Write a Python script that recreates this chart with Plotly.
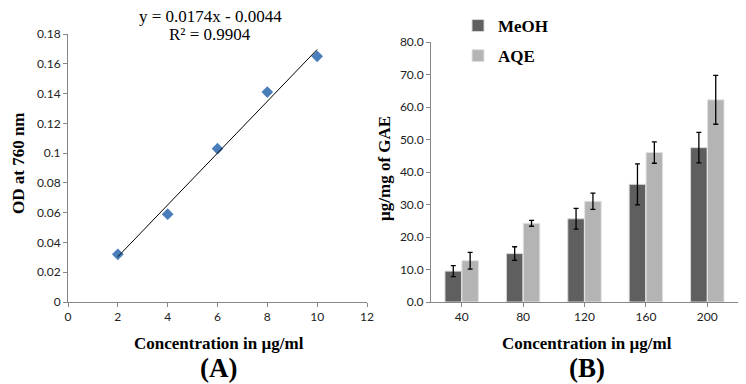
import plotly.graph_objects as go

# Panel A data
conc_a = [2, 4, 6, 8, 10]
od_a = [0.032, 0.059, 0.103, 0.141, 0.165]
slope, intercept = 0.0174, -0.0044
fit_x = [2, 10]

# Panel B data
cats_b = ["40", "80", "120", "160", "200"]
meoh = [9.5, 14.9, 25.6, 36.2, 47.5]
meoh_err = [1.7, 2.1, 3.2, 6.3, 4.7]
aqe = [12.7, 24.2, 31.0, 46.0, 62.2]
aqe_err = [2.6, 0.9, 2.5, 3.3, 7.5]

# page body has an 8px margin, so the figure is offset by 8px
OFF = 8
W, H = 746 - OFF, 384 - OFF
def px(x): return (x - OFF) / W
def py(y): return 1 - (y - OFF) / H

serif = "Liberation Serif"
sans = "Lato"

fig = go.Figure()
fig.add_trace(go.Scatter(x=conc_a, y=od_a, mode="markers",
                         marker=dict(symbol="diamond", size=9, color="#4a7ebb"),
                         xaxis="x", yaxis="y", showlegend=False))
fig.add_trace(go.Scatter(x=fit_x, y=[slope * v + intercept for v in fit_x], mode="lines",
                         line=dict(color="black", width=1),
                         xaxis="x", yaxis="y", showlegend=False))

fig.add_trace(go.Bar(x=cats_b, y=meoh, name="MeOH", marker=dict(color="#5f5f5f", line=dict(color="#d8d8d8", width=1)),
                     error_y=dict(type="data", array=meoh_err, color="black", thickness=1.3, width=2.5),
                     xaxis="x2", yaxis="y2", legendgroup="a"))
fig.add_trace(go.Bar(x=cats_b, y=aqe, name="AQE", marker=dict(color="#b4b4b4", line=dict(color="#e2e2e2", width=1)),
                     error_y=dict(type="data", array=aqe_err, color="black", thickness=1.3, width=2.5),
                     xaxis="x2", yaxis="y2", legendgroup="b"))

axis_common = dict(showline=True, linecolor="#868686", linewidth=1, ticks="outside",
                   tickcolor="#868686", ticklen=4, showgrid=False, zeroline=False, automargin=False,
                   tickfont=dict(family=sans, size=12, color="#222"))

fig.update_layout(
    width=W, height=H, margin=dict(l=0, r=0, t=0, b=0, autoexpand=False),
    paper_bgcolor="white", plot_bgcolor="white",
    barmode="group", bargap=0.45, bargroupgap=0.02,
    xaxis=dict(domain=[px(68), px(367)], range=[0, 12], dtick=2, anchor="y", **axis_common),
    yaxis=dict(domain=[py(302), py(34)], range=[0, 0.18], dtick=0.02, anchor="x", **axis_common),
    xaxis2=dict(domain=[px(431), px(738)], anchor="y2", **axis_common),
    yaxis2=dict(domain=[py(302), py(42)], range=[0, 80], dtick=10, tickformat=".1f", anchor="x2", **axis_common),
    legend=dict(x=px(458), y=py(8), xanchor="left", yanchor="top",
                font=dict(family=serif, size=17, color="black", weight="bold"),
                tracegroupgap=5, traceorder="grouped", bgcolor="rgba(0,0,0,0)",
                itemwidth=30),
)

ann = [
    dict(text="y = 0.0174x - 0.0044", x=px(210), y=py(16), size=17, bold=False),
    dict(text="R² = 0.9904", x=px(210), y=py(34), size=17, bold=False),
    dict(text="Concentration in µg/ml", x=px(219), y=py(343), size=17, bold=True),
    dict(text="(A)", x=px(218), y=py(368), size=27, bold=True),
    dict(text="Concentration in µg/ml", x=px(587), y=py(343), size=17, bold=True),
    dict(text="(B)", x=px(587), y=py(368), size=27, bold=True),
]
for a in ann:
    fig.add_annotation(text=a["text"], x=a["x"], y=a["y"], xref="paper", yref="paper",
                       showarrow=False, xanchor="center", yanchor="middle",
                       font=dict(family=serif, size=a["size"], color="black",
                                 weight="bold" if a["bold"] else "normal"))

fig.add_annotation(text="OD at 760 nm", x=px(18), y=py(163), xref="paper", yref="paper",
                   showarrow=False, textangle=-90, xanchor="center", yanchor="middle",
                   font=dict(family=serif, size=17, color="black", weight="bold"))
fig.add_annotation(text="µg/mg of GAE", x=px(384), y=py(169), xref="paper", yref="paper",
                   showarrow=False, textangle=-90, xanchor="center", yanchor="middle",
                   font=dict(family=serif, size=17, color="black", weight="bold"))

fig.write_html("out.html")
